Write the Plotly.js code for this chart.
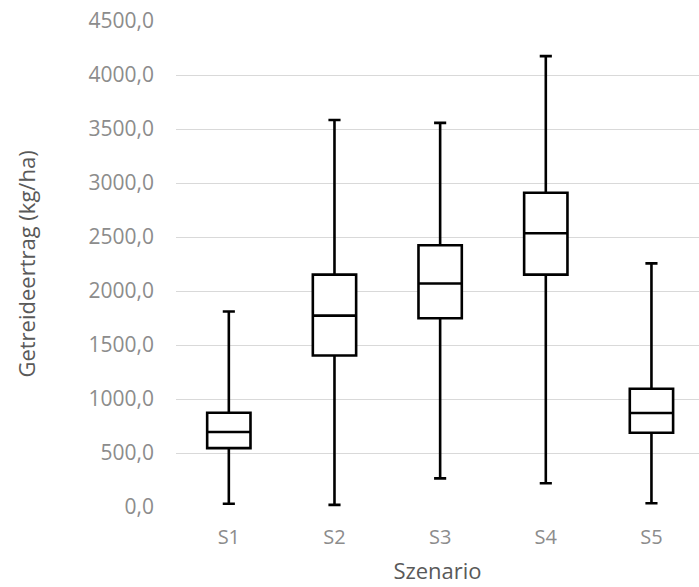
<!DOCTYPE html>
<html>
<head>
<meta charset="utf-8">
<script src="https://cdn.plot.ly/plotly-3.0.1.min.js"></script>
<style>html,body{margin:0;padding:0;background:#fff;}#chart{width:699px;height:587px;}</style>
</head>
<body>
<div id="chart"></div>
<script>
var categories = ['S1', 'S2', 'S3', 'S4', 'S5'];
var minValues = [30, 20, 265, 220, 35];
var q1Values = [545, 1403, 1748, 2152, 688];
var medianValues = [695, 1772, 2070, 2535, 870];
var q3Values = [872, 2152, 2424, 2910, 1095];
var maxValues = [1810, 3583, 3557, 4175, 2256];
var yTicks = [0, 500, 1000, 1500, 2000, 2500, 3000, 3500, 4000, 4500];

var trace = {
  type: 'box',
  x: categories,
  q1: q1Values,
  median: medianValues,
  q3: q3Values,
  lowerfence: minValues,
  upperfence: maxValues,
  width: 0.41,
  whiskerwidth: 0.28,
  fillcolor: 'rgba(255,255,255,1)',
  line: {color: '#000000', width: 2.6},
  boxpoints: false,
  hoverinfo: 'skip',
  showlegend: false
};

var layout = {
  width: 699,
  height: 587,
  margin: {l: 176, r: 0, t: 21, b: 80},
  paper_bgcolor: '#ffffff',
  plot_bgcolor: '#ffffff',
  separators: ',.',
  font: {family: '"Open Sans", sans-serif', color: '#8c8c8c'},
  xaxis: {
    type: 'category',
    range: [-0.5, 4.45],
    showgrid: false,
    zeroline: false,
    showline: false,
    ticks: '',
    ticklabelstandoff: 16,
    tickfont: {size: 20, color: '#8c8c8c'},
    title: {text: 'Szenario', font: {size: 22, color: '#595959'}, standoff: 14}
  },
  yaxis: {
    range: [0, 4500],
    tickvals: yTicks,
    tickformat: '.1f',
    showgrid: true,
    gridcolor: '#d9d9d9',
    gridwidth: 1,
    zeroline: false,
    showline: false,
    ticks: '',
    ticklabelstandoff: 21,
    tickfont: {size: 21, color: '#8c8c8c'},
    title: {text: 'Getreideertrag (kg/ha)', font: {size: 22, color: '#595959'}, standoff: 46}
  }
};

Plotly.newPlot('chart', [trace], layout, {displayModeBar: false, staticPlot: true});
</script>
</body>
</html>
